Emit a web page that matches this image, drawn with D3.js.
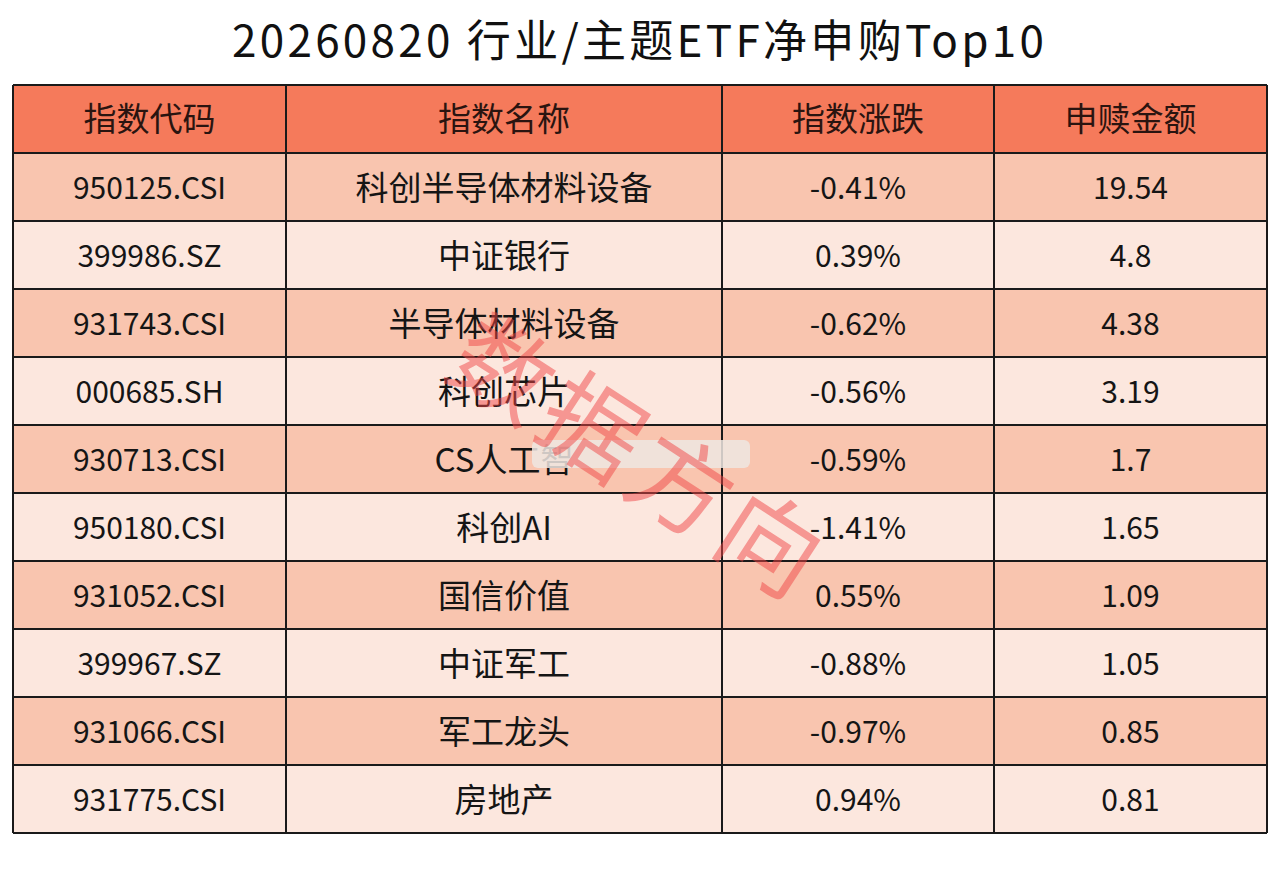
<!DOCTYPE html>
<html>
<head>
<meta charset="utf-8">
<script src="https://cdn.jsdelivr.net/npm/d3@7"></script>
<style>
  html, body { margin: 0; padding: 0; background: #fff; }
  svg { display: block; font-family: "Noto Sans CJK SC", "Noto Sans", sans-serif; }
</style>
</head>
<body>
<div id="chart"></div>
<script>
// ── Data ──
const title   = '20260820 行业/主题ETF净申购Top10';
const headers = ['指数代码', '指数名称', '指数涨跌', '申赎金额'];
const codes   = ['950125.CSI', '399986.SZ', '931743.CSI', '000685.SH', '930713.CSI',
                 '950180.CSI', '931052.CSI', '399967.SZ', '931066.CSI', '931775.CSI'];
const names   = ['科创半导体材料设备', '中证银行', '半导体材料设备', '科创芯片', 'CS人工智',
                 '科创AI', '国信价值', '中证军工', '军工龙头', '房地产'];
const changes = [-0.41, 0.39, -0.62, -0.56, -0.59, -1.41, 0.55, -0.88, -0.97, 0.94];
const amounts = [19.54, 4.8, 4.38, 3.19, 1.7, 1.65, 1.09, 1.05, 0.85, 0.81];
const watermark = '数据方向';

// ── Layout ──
const W = 1280, H = 895;
const tLeft = 13, tRight = 1267, tTop = 85, tBottom = 833;
const colWidths = [273, 436, 272, 273];
const colFont = [30, 33, 30, 30];
const colors = { header: '#f57a5b', odd: '#f9c5af', even: '#fce7de', line: '#1a1a1a' };

const rows = codes.map((c, i) => [
  c,
  names[i],
  changes[i].toFixed(2) + '%',
  String(amounts[i])
]);

const svg = d3.select('#chart').append('svg')
  .attr('width', W).attr('height', H);

// Title
svg.append('text')
  .attr('x', 638).attr('y', 57)
  .attr('text-anchor', 'middle')
  .attr('fill', '#111')
  .attr('textLength', 812)
  .attr('lengthAdjust', 'spacing')
  .style('font-size', '44px')
  .text(title);

// Scales
const y = d3.scaleBand()
  .domain(d3.range(rows.length + 1))
  .range([tTop, tBottom]);

const edges = [tLeft];
colWidths.forEach(w => edges.push(edges[edges.length - 1] + w));
const x = d3.scaleOrdinal().domain(d3.range(headers.length)).range(edges.slice(0, -1));
const xw = i => colWidths[i];

// Row backgrounds
svg.selectAll('.rowbg')
  .data(d3.range(rows.length + 1))
  .enter().append('rect')
  .attr('x', tLeft)
  .attr('y', d => y(d))
  .attr('width', tRight - tLeft)
  .attr('height', y.bandwidth())
  .attr('fill', d => d === 0 ? colors.header : (d % 2 === 1 ? colors.odd : colors.even));

// Header text
svg.selectAll('.head')
  .data(headers)
  .enter().append('text')
  .attr('x', (d, i) => x(i) + xw(i) / 2)
  .attr('y', y(0) + y.bandwidth() / 2 - 2)
  .attr('text-anchor', 'middle')
  .attr('dominant-baseline', 'central')
  .attr('fill', '#2a1410')
  .style('font-size', '33px')
  .text(d => d);

// Body cells
const g = svg.selectAll('.row')
  .data(rows)
  .enter().append('g');

g.selectAll('text')
  .data((r, ri) => r.map((v, ci) => ({ v, ci, ri })))
  .enter().append('text')
  .attr('x', d => x(d.ci) + xw(d.ci) / 2)
  .attr('y', d => y(d.ri + 1) + y.bandwidth() / 2 - 1)
  .attr('text-anchor', 'middle')
  .attr('dominant-baseline', 'central')
  .attr('fill', '#151515')
  .style('font-size', d => colFont[d.ci] + 'px')
  .text(d => d.v);

// Grid lines
svg.selectAll('.hline')
  .data(d3.range(rows.length + 2))
  .enter().append('line')
  .attr('x1', tLeft).attr('x2', tRight)
  .attr('y1', d => d <= rows.length ? y(d) : tBottom)
  .attr('y2', d => d <= rows.length ? y(d) : tBottom)
  .attr('stroke', colors.line)
  .attr('stroke-width', 2);

svg.selectAll('.vline')
  .data(edges)
  .enter().append('line')
  .attr('x1', d => d).attr('x2', d => d)
  .attr('y1', tTop).attr('y2', tBottom)
  .attr('stroke', colors.line)
  .attr('stroke-width', 2);

// Blurred strip over the name cell
svg.append('rect')
  .attr('x', 532).attr('y', 440)
  .attr('width', 218).attr('height', 28)
  .attr('rx', 6)
  .attr('fill', '#efe6e2')
  .attr('opacity', 0.85);

// Watermark
const wm = svg.append('g')
  .attr('transform', 'translate(507,364) rotate(33)');
wm.selectAll('text')
  .data(watermark.split(''))
  .enter().append('text')
  .attr('x', (d, i) => i * 106)
  .attr('y', 0)
  .attr('text-anchor', 'middle')
  .attr('dominant-baseline', 'central')
  .attr('fill', 'rgba(240,70,70,0.5)')
  .style('font-size', '100px')
  .text(d => d);
</script>
</body>
</html>
